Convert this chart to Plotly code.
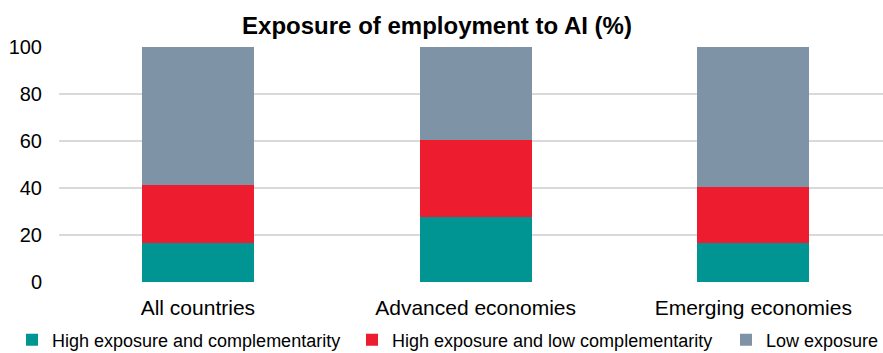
import plotly.graph_objects as go

categories = ["All countries", "Advanced economies", "Emerging economies"]
high_compl = [16.6, 27.7, 16.6]
high_low_compl = [24.5, 32.9, 23.7]
low_exposure = [58.9, 39.4, 59.7]
series_names = ["High exposure and complementarity",
                "High exposure and low complementarity",
                "Low exposure"]
colors = ["#009593", "#ED1C2E", "#7F93A6"]
y_ticks = [0, 20, 40, 60, 80, 100]

W, H = 883, 353
FONT = "Liberation Sans, Arial, sans-serif"

fig = go.Figure()
legend_keys = ["legend", "legend2", "legend3"]
for vals, name, col, lg in zip([high_compl, high_low_compl, low_exposure],
                               series_names, colors, legend_keys):
    fig.add_trace(go.Bar(x=categories, y=vals, name=name,
                         marker=dict(color=col, line=dict(width=0)),
                         legend=lg, showlegend=True))

legend_x = [(49 - 37) / W, (389 - 37) / W, (763 - 37) / W]
common_leg = dict(orientation="h", xref="container", yref="container",
                  yanchor="middle", xanchor="left", y=(H - 340) / H,
                  font=dict(family=FONT, size=18, color="#000000"),
                  bgcolor="rgba(0,0,0,0)", itemwidth=30, visible=True)

fig.update_layout(
    width=W, height=H,
    showlegend=True,
    margin=dict(l=59, r=0, t=47, b=71),
    barmode="stack", bargap=0.597,
    plot_bgcolor="white", paper_bgcolor="white",
    font=dict(family=FONT, color="#000000"),
    title=dict(text="<b>Exposure of employment to AI (%)</b>",
               x=437 / W, xanchor="center", xref="container",
               y=(H - 26) / H, yanchor="middle", yref="container",
               font=dict(family=FONT, size=24, color="#000000")),
    legend=dict(common_leg, x=legend_x[0]),
    legend2=dict(common_leg, x=legend_x[1]),
    legend3=dict(common_leg, x=legend_x[2]),
    xaxis=dict(range=[-0.5, 2.467], showgrid=False, showline=False,
               tickfont=dict(family=FONT, size=21, color="#000000"),
               ticks="", ticklabelstandoff=11),
    yaxis=dict(range=[0, 100], tickvals=y_ticks, showgrid=True,
               gridcolor="#D9D9D9", gridwidth=2, zeroline=False,
               showline=False, ticks="",
               tickfont=dict(family=FONT, size=20, color="#000000"),
               ticklabelstandoff=16),
)

fig.write_html("out.html")
